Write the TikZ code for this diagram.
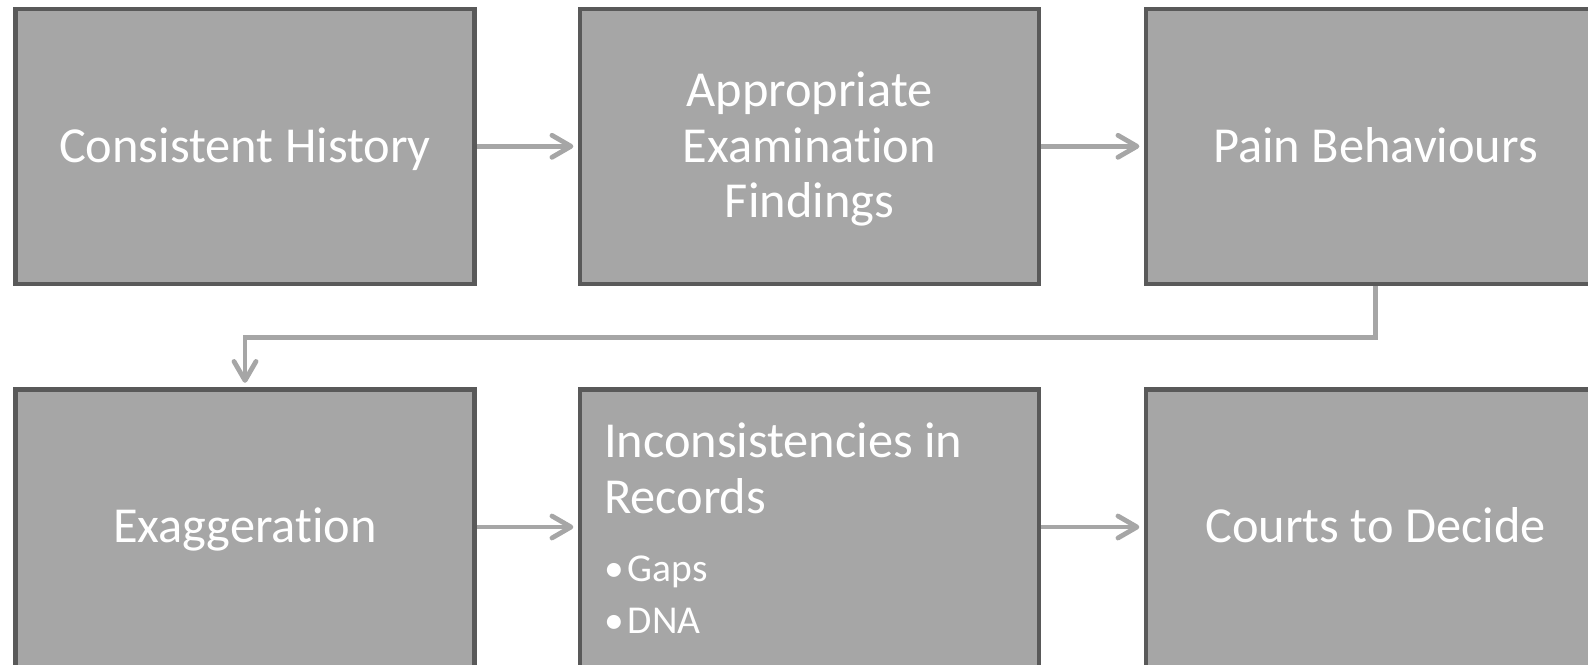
\documentclass[tikz,border=0pt]{standalone}
\usepackage{fontspec}
\setmainfont{Carlito}[Ligatures=NoCommon]
\usetikzlibrary{arrows.meta}
\definecolor{boxfill}{HTML}{A6A6A6}
\definecolor{boxline}{HTML}{595959}
\tikzset{
    procbox/.style={rectangle, draw=boxline, line width=2.25pt, fill=boxfill,
        minimum width=229.5pt, minimum height=137.5pt, inner sep=0pt,
        text=white, font=\fontsize{25.2}{27.85}\selectfont, align=center,
        text height=15.9pt, text depth=0pt},
    lowbox/.style={procbox, minimum height=141.5pt, text depth=4pt},
    flow/.style={draw=boxfill, line width=2.4pt, shorten >=2.2pt,
        -{Straight Barb[length=9.5pt, width=11pt, round]}}
}
\begin{document}
\begin{tikzpicture}[x=0.5pt, y=-0.5pt]
        \useasboundingbox (0,0) rectangle (1588,664);
        \clip (0,0) rectangle (1588,664);

        \node[procbox] (hist) at (245,146.3) {Consistent History};
        \node[procbox, text height=71.6pt] (exam) at (809.5,146.3) {Appropriate\\Examination\\Findings};
        \node[procbox] (pain) at (1375.5,146.3) {Pain Behaviours};

        \node[lowbox] (exag) at (245,531) {Exaggeration};
        \node[lowbox, text width=205.5pt, align=flush left, text depth=89.5pt] (incon) at (809.5,531)
            {Inconsistencies in\\Records\par\vspace{8.3pt}%
            {\fontsize{19.75}{25.85}\selectfont\makebox[12pt][l]{\textbullet}Gaps\par
            \makebox[12pt][l]{\textbullet}DNA\par}};
        \node[lowbox] (court) at (1375.5,531) {Courts to Decide};

        \draw[flow] (hist.east) -- (exam.west);
        \draw[flow] (exam.east) -- (pain.west);
        \draw[flow] (pain.south) -- ++(0,51.7) -| (exag.north);
        \draw[flow] ([yshift=2pt]exag.east) -- ([yshift=2pt]incon.west);
        \draw[flow] ([yshift=2pt]incon.east) -- ([yshift=2pt]court.west);
    \end{tikzpicture}
\end{document}
